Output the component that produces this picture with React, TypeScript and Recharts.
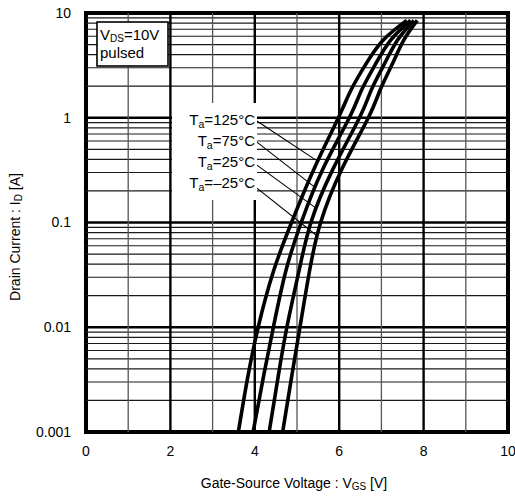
import { LineChart, Line, XAxis, YAxis, ReferenceLine, ReferenceArea } from 'recharts'

// drain current levels (A) shared by all curves
const currents = [0.001, 0.00313, 0.01, 0.035, 0.1, 0.316, 1, 1.84, 3.2, 5.5, 8.5]

// gate-source voltage (V) reached at each current level, per ambient temperature
const vgs125 = [3.61, 3.82, 4.08, 4.45, 4.87, 5.39, 5.98, 6.28, 6.62, 7.04, 7.6]
const vgs75 = [3.96, 4.19, 4.44, 4.74, 5.1, 5.6, 6.24, 6.53, 6.85, 7.22, 7.69]
const vgs25 = [4.34, 4.54, 4.76, 5.05, 5.33, 5.84, 6.48, 6.76, 7.06, 7.38, 7.77]
const vgsMinus25 = [4.66, 4.86, 5.07, 5.3, 5.56, 6.05, 6.69, 6.97, 7.25, 7.53, 7.85]

const tempLabels = ['125', '75', '25', '–25']

const xTicks = [0, 2, 4, 6, 8, 10]
const xGrid = [1, 2, 3, 4, 5, 6, 7, 8, 9]
const yTicks = [0.001, 0.01, 0.1, 1, 10]
const yTickLabels = ['0.001', '0.01', '0.1', '1', '10']
const decades = [0.001, 0.01, 0.1, 1]
const minorSteps = [2, 3, 4, 5, 6, 7, 8, 9]

// leader lines: label end -> curve (V, A)
const leaderStartV = 4.05
const leaderEndV = 5.45
const leaderStartI = [0.93, 0.586, 0.353, 0.213]
const leaderEndI = [0.394, 0.213, 0.137, 0.0759]

const series = [vgs125, vgs75, vgs25, vgsMinus25].map(vgs =>
  vgs.map((v, i) => ({ v, id: currents[i] }))
)

const FONT = '"Liberation Sans", Arial, sans-serif'

const minorLines: number[] = []
decades.forEach(d => minorSteps.forEach(k => minorLines.push(+(d * k).toPrecision(3))))

// text boxes sit over the grid, so they go in an overlay svg
function Annotations() {
  const rows = [120, 141, 162, 183]
  return (
    <svg
      width={515}
      height={497}
      style={{ position: 'absolute', left: 0, top: 0, pointerEvents: 'none' }}
      fontFamily={FONT}
    >
      <rect x={172} y={103} width={85} height={97} fill="#fff" />
      <rect x={97} y={22} width={71} height={44} fill="#fff" stroke="#000" strokeWidth={1.6} />
      <text x={100} y={40} fontSize={15}>
        V<tspan fontSize={10} dy={2}>DS</tspan>
        <tspan dy={-2}>=10V</tspan>
      </text>
      <text x={100} y={58} fontSize={15}>pulsed</text>
      {rows.map((y, i) => (
        <text key={i} x={255} y={y + 5} fontSize={15} textAnchor="end">
          T<tspan fontSize={10.5} dy={3}>a</tspan>
          <tspan dy={-3}>={tempLabels[i]}°C</tspan>
        </text>
      ))}
      <text x={294} y={488} fontSize={14} textAnchor="middle">
        Gate-Source Voltage : V<tspan fontSize={10} dy={2}>GS</tspan>
        <tspan dy={-2}> [V]</tspan>
      </text>
      <text x={20} y={237} fontSize={14} textAnchor="middle" transform="rotate(-90 20 237)">
        Drain Current : I<tspan fontSize={10} dy={2}>D</tspan>
        <tspan dy={-2}> [A]</tspan>
      </text>
    </svg>
  )
}

export default function App() {
  return (
    <div style={{ position: 'relative', width: 515, height: 497, background: '#fff' }}>
      <style>{'body{margin:0}'}</style>
      <LineChart width={515} height={497} margin={{ top: 13, right: 7, left: 0, bottom: 0 }}>
        <XAxis
          type="number"
          dataKey="v"
          domain={[0, 10]}
          ticks={xTicks}
          allowDataOverflow
          axisLine={false}
          tickLine={false}
          tickSize={0}
          tickMargin={14}
          height={65}
          tick={{ fill: '#000', fontSize: 14, fontFamily: FONT }}
        />
        <YAxis
          type="number"
          dataKey="id"
          scale="log"
          domain={[0.001, 10]}
          ticks={yTicks}
          allowDataOverflow
          axisLine={false}
          tickLine={false}
          tickSize={0}
          tickMargin={15}
          width={86}
          tickFormatter={(value) => yTickLabels[yTicks.indexOf(value)] ?? String(value)}
          tick={{ fill: '#000', fontSize: 14, fontFamily: FONT }}
        />
        {minorLines.map(y => (
          <ReferenceLine key={`h${y}`} y={y} stroke="#1a1a1a" strokeWidth={1.2} />
        ))}
        {decades.slice(1).map(y => (
          <ReferenceLine key={`d${y}`} y={y} stroke="#000" strokeWidth={2.6} />
        ))}
        {xGrid.map(x => (
          <ReferenceLine
            key={`v${x}`}
            x={x}
            stroke={x % 2 === 0 ? '#000' : '#555'}
            strokeWidth={x % 2 === 0 ? 2.4 : 1.3}
          />
        ))}
        <ReferenceArea x1={0} x2={10} y1={0.001} y2={10} fill="none" stroke="#000" strokeWidth={4} />
        {leaderStartI.map((yi, i) => (
          <ReferenceLine
            key={`l${i}`}
            segment={[{ x: leaderStartV, y: yi }, { x: leaderEndV, y: leaderEndI[i] }]}
            stroke="#000"
            strokeWidth={1.1}
          />
        ))}
        {series.map((data, i) => (
          <Line
            key={i}
            data={data}
            dataKey="id"
            type="natural"
            stroke="#000"
            strokeWidth={3.6}
            dot={false}
            isAnimationActive={false}
          />
        ))}
      </LineChart>
      <Annotations />
    </div>
  )
}
